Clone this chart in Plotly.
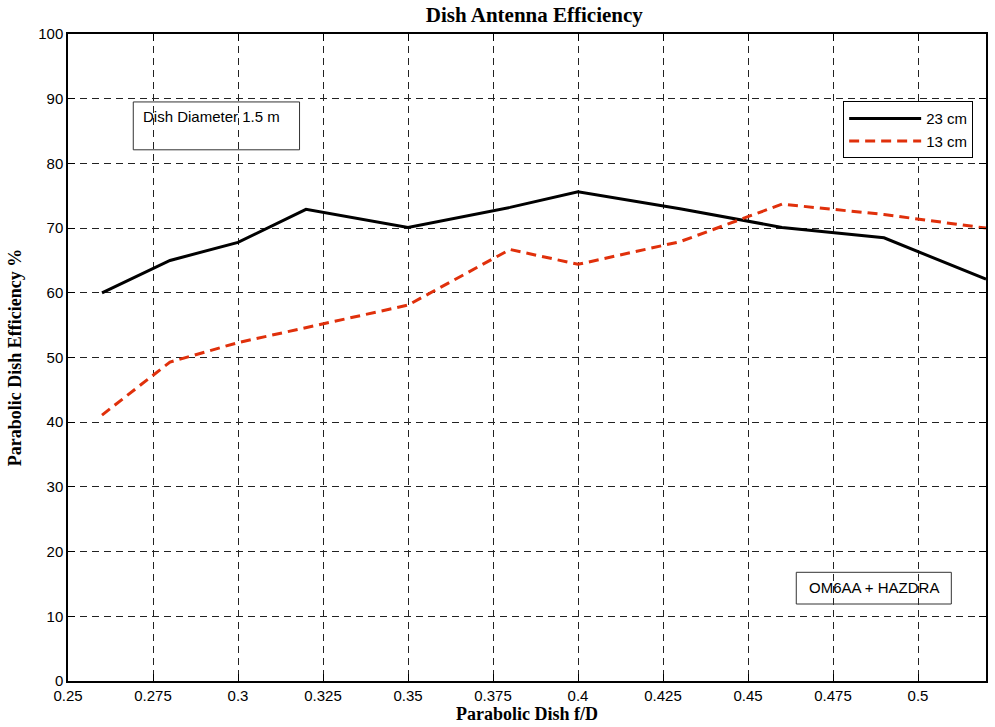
import plotly.graph_objects as go

# Data
fd_values = [0.26, 0.28, 0.30, 0.32, 0.35, 0.38, 0.40, 0.43, 0.46, 0.49, 0.52]
eff_23cm = [60.0, 65.0, 67.8, 72.9, 70.1, 73.2, 75.6, 73.0, 70.1, 68.5, 62.1]
eff_13cm = [41.1, 49.3, 52.3, 54.6, 58.1, 66.7, 64.4, 67.9, 73.7, 72.1, 70.0]
x_ticks = [0.25, 0.275, 0.3, 0.325, 0.35, 0.375, 0.4, 0.425, 0.45, 0.475, 0.5]
x_tick_labels = ["0.25", "0.275", "0.3", "0.325", "0.35", "0.375", "0.4", "0.425", "0.45", "0.475", "0.5"]
y_ticks = [0, 10, 20, 30, 40, 50, 60, 70, 80, 90, 100]

SANS = "Liberation Sans, Arial, sans-serif"
SERIF = "Liberation Serif, Times New Roman, serif"

fig = go.Figure()
fig.add_trace(go.Scatter(
    x=fd_values, y=eff_23cm, mode="lines", name="23 cm",
    line=dict(color="#000000", width=3)
))
fig.add_trace(go.Scatter(
    x=fd_values, y=eff_13cm, mode="lines", name="13 cm",
    line=dict(color="#E0300B", width=3, dash="10px,6px")
))

# Text boxes
fig.add_shape(type="rect", xref="x", yref="y", x0=0.2692, x1=0.3181, y0=82.1, y1=89.5,
              line=dict(color="#333333", width=1), fillcolor="rgba(255,255,255,0)", layer="above")
fig.add_annotation(x=0.2716, y=88.9, xref="x", yref="y", text="Dish Diameter 1.5 m",
                   showarrow=False, xanchor="left", yanchor="top",
                   font=dict(family=SANS, size=15, color="#000000"))
fig.add_shape(type="rect", xref="x", yref="y", x0=0.4642, x1=0.5098, y0=11.9, y1=16.8,
              line=dict(color="#333333", width=1), fillcolor="rgba(255,255,255,0)", layer="above")
fig.add_annotation(x=0.4871, y=14.4, xref="x", yref="y", text="OM6AA + HAZDRA",
                   showarrow=False, xanchor="center", yanchor="middle",
                   font=dict(family=SANS, size=15, color="#000000"))

axis_common = dict(
    showline=True, linecolor="#000000", linewidth=1.5, mirror="ticks",
    ticks="inside", ticklen=7, tickcolor="#000000", tickwidth=1,
    showgrid=True, gridcolor="#222222", gridwidth=1, griddash="7px,5px",
    zeroline=False, automargin=False,
    tickfont=dict(family=SANS, size=15, color="#000000"),
)

fig.update_layout(
    width=995, height=727,
    margin=dict(l=68, r=9, t=34, b=46),
    paper_bgcolor="#ffffff", plot_bgcolor="#ffffff",
    title=dict(text="<b>Dish Antenna Efficiency</b>", x=0.537, xanchor="center",
               y=1 - 15 / 727, yanchor="middle", yref="container",
               font=dict(family=SERIF, size=21, color="#000000")),
    xaxis=dict(range=[0.25, 0.52], tickvals=x_ticks, ticktext=x_tick_labels,
               ticklabelstandoff=0,
               title=dict(text="<b>Parabolic Dish f/D</b>", standoff=2,
                          font=dict(family=SERIF, size=18, color="#000000")),
               **axis_common),
    yaxis=dict(range=[0, 100], tickvals=y_ticks,
               title=dict(text="<b>Parabolic Dish Efficiency %</b>", standoff=12,
                          font=dict(family=SERIF, size=18, color="#000000")),
               **axis_common),
    legend=dict(x=0.986, y=0.896, xanchor="right", yanchor="top",
                bgcolor="#ffffff", bordercolor="#000000", borderwidth=1,
                font=dict(family=SANS, size=15, color="#000000"),
                itemwidth=72, tracegroupgap=2),
    showlegend=True,
)

# Remove the default 8px page margin so the figure sits at the window origin.
fig.write_html("out.html", config={"displayModeBar": False},
               post_script="document.body.style.margin='0px';")
